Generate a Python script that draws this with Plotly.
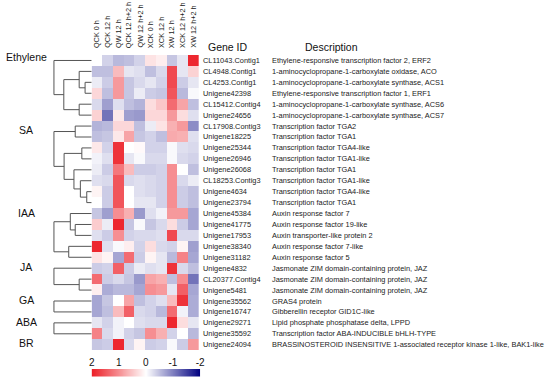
import plotly.graph_objects as go
import numpy as np

W, H = 550, 379

samples = ["QCK 0 h", "QCK 12 h", "QW 12 h", "QCK 12 h+2 h", "QW 12 h+2 h",
           "XCK 0 h", "XCK 12 h", "XW 12 h", "XCK 12 h+2 h", "XW 12 h+2 h"]

gene_ids = ["CL11043.Contig1", "CL4948.Contig1", "CL4253.Contig1", "Unigene42398",
            "CL15412.Contig4", "Unigene24656", "CL17908.Contig3", "Unigene18225",
            "Unigene25344", "Unigene26946", "Unigene26068", "CL18253.Contig3",
            "Unigene4634", "Unigene23794", "Unigene45384", "Unigene41775",
            "Unigene17953", "Unigene38340", "Unigene31182", "Unigene4832",
            "CL20377.Contig4", "Unigene5481", "Unigene35562", "Unigene16747",
            "Unigene29271", "Unigene35592", "Unigene24094"]

descriptions = [
    "Ethylene-responsive transcription factor 2, ERF2",
    "1-aminocyclopropane-1-carboxylate oxidase, ACO",
    "1-aminocyclopropane-1-carboxylate synthase, ACS1",
    "Ethylene-responsive transcription factor 1, ERF1",
    "1-aminocyclopropane-1-carboxylate synthase, ACS6",
    "1-aminocyclopropane-1-carboxylate synthase, ACS7",
    "Transcription factor TGA2",
    "Transcription factor TGA1",
    "Transcription factor TGA4-like",
    "Transcription factor TGA1-like",
    "Transcription factor TGA1",
    "Transcription factor TGA1-like",
    "Transcription factor TGA4-like",
    "Transcription factor TGA1",
    "Auxin response factor 7",
    "Auxin response factor 19-like",
    "Auxin transporter-like protein 2",
    "Auxin response factor 7-like",
    "Auxin response factor 5",
    "Jasmonate ZIM domain-containing protein, JAZ",
    "Jasmonate ZIM domain-containing protein, JAZ",
    "Jasmonate ZIM domain-containing protein, JAZ",
    "GRAS4 protein",
    "Gibberellin receptor GID1C-like",
    "Lipid phosphate phosphatase delta, LPPD",
    "Transcription factor ABA-INDUCIBLE bHLH-TYPE",
    "BRASSINOSTEROID INSENSITIVE 1-associated receptor kinase 1-like, BAK1-like",
]

values = [
    [0.0, -0.35, -0.55, -0.5, -0.35, 0.25, 0.15, -0.45, -0.2, 1.9],
    [-0.5, -0.5, 0.6, -0.2, -0.25, -0.5, -0.3, 1.6, -0.2, 0.4],
    [-0.15, -0.4, 0.9, -0.45, -0.3, -0.2, -0.35, 1.6, -0.4, -0.2],
    [0.35, -0.5, 0.9, -0.45, -0.15, -0.4, -0.45, 1.5, -0.55, -0.05],
    [-0.3, -0.75, -0.25, -0.5, -0.6, 0.3, 0.5, 1.3, 0.8, -0.5],
    [0.4, -1.1, 0.2, -0.75, -0.8, 0.35, 0.35, 0.9, 0.3, -0.25],
    [-0.6, -0.55, 0.35, 0.35, -0.5, -0.15, 0.25, 0.7, 0.9, -0.9],
    [-0.5, -0.45, 0.2, 0.8, -0.45, -0.35, -0.5, 0.75, 0.7, -0.25],
    [0.2, -0.35, 1.8, 0.0, 0.05, -0.35, -0.35, -0.05, -0.25, -0.3],
    [-0.1, -0.25, 1.8, -0.2, -0.05, -0.3, -0.3, -0.05, -0.3, -0.35],
    [-0.15, -0.4, 1.2, 0.6, -0.4, -0.4, -0.35, 1.0, 0.0, -0.5],
    [-0.25, -0.3, 1.5, -0.3, -0.25, -0.3, -0.35, 1.0, -0.3, -0.15],
    [0.1, -0.4, 1.5, 0.0, -0.25, -0.3, -0.35, 1.0, -0.4, -0.5],
    [0.0, -0.4, 1.5, 0.0, -0.2, -0.2, -0.35, 1.0, -0.4, -0.5],
    [-0.45, -0.75, 1.0, 0.7, -0.8, -0.25, -0.1, 0.9, 0.9, -0.7],
    [0.45, -0.15, 1.9, -0.45, -0.05, -0.45, -0.3, 0.3, -0.4, -0.7],
    [-0.25, -0.4, 1.0, -0.35, -0.3, -0.3, -0.25, 1.6, -0.3, -0.3],
    [1.9, -0.25, -0.05, 0.15, -0.35, 0.3, -0.3, -0.35, 0.1, -0.75],
    [0.25, 0.1, -0.7, 1.3, -0.4, 0.1, -0.2, -0.55, 1.1, -0.7],
    [-0.4, -0.35, 1.4, -0.4, -0.15, -0.25, -0.2, 1.8, -0.3, -0.5],
    [1.3, -0.4, -0.3, -0.45, -0.8, 0.8, 0.7, -0.5, 1.0, -1.1],
    [0.15, -0.65, -0.55, -0.55, -0.7, 1.0, 0.9, -0.2, 1.4, -0.7],
    [-0.7, -0.45, 0.0, 0.8, -0.5, -0.35, -0.25, 0.6, 1.8, -0.65],
    [-0.7, -0.5, 0.6, 1.4, -0.3, -0.35, -0.55, 1.3, -0.1, -0.65],
    [-0.2, -0.35, -0.1, 0.0, -0.25, -0.3, -0.3, 1.9, 0.3, -0.2],
    [1.1, -0.3, -0.1, -0.35, -0.45, 1.0, 0.7, -0.35, 0.0, -0.55],
    [-0.45, -0.4, 1.9, -0.3, 0.1, -0.4, -0.35, -0.05, -0.4, 0.9],
]

# pathway groups and their row clustering trees (height, left, right); leaves = row index
groups = ["Ethylene", "SA", "IAA", "JA", "GA", "ABA", "BR"]
trees = [
    (38.3, 0, (28.3, (12.7, 1, (6.7, 2, 3)), (12.7, 4, 5))),
    (38.3, (16.7, 6, 7), (28.0, (10.0, 8, 9), (18.0, 10, (11.5, 11, (5.0, 12, 13))))),
    (38.3, (21.7, 14, (16.7, 15, 16)), (23.3, 17, 18)),
    (38.3, 19, (12.7, 20, 21)),
    (38.3, 22, 23),
    (38.3, 24, 25),
    26,
]
group_label_px = [57.5, 130, 213, 267, 300, 321.5, 342.5]

scale_ticks = [2, 1, 0, -1, -2]

FONT = "Liberation Sans, Arial, sans-serif"
colorscale = [[0.0, "rgb(0,0,128)"], [0.5, "rgb(255,255,255)"], [1.0, "rgb(236,28,36)"]]

def px_x(p):
    return p / W

def px_y(p):
    return 1 - p / H

# heatmap geometry
hx0, hx1 = 90, 199
hy0, hy1 = 55, 350.2

fig = go.Figure()

fig.add_trace(go.Heatmap(
    z=values, x=list(range(len(samples))), y=list(range(len(gene_ids))),
    colorscale=colorscale, zmin=-2, zmax=2, showscale=False,
    xaxis="x", yaxis="y", hoverinfo="skip"))

# dendrogram
seg_x, seg_y = [], []

def walk(node):
    if isinstance(node, int):
        return float(node), 0.0
    h, l, r = node
    yl, hl = walk(l)
    yr, hr = walk(r)
    seg_x.extend([hl, h, h, hr, None])
    seg_y.extend([yl, yl, yr, yr, None])
    return (yl + yr) / 2, h

for t in trees:
    walk(t)

fig.add_trace(go.Scatter(x=seg_x, y=seg_y, mode="lines",
                         line=dict(color="#555555", width=1),
                         xaxis="x2", yaxis="y", hoverinfo="skip", showlegend=False))

# colour scale bar
bar_x = np.linspace(scale_ticks[0], scale_ticks[-1], 221)
fig.add_trace(go.Heatmap(z=[bar_x], x=bar_x, y=[0], colorscale=colorscale,
                         zmin=-2, zmax=2, showscale=False,
                         xaxis="x3", yaxis="y3", hoverinfo="skip"))

ann = []
for i, s in enumerate(samples):
    ann.append(dict(x=i, y=px_y(50), xref="x", yref="paper", text=s,
                    textangle=-90, xanchor="center", yanchor="bottom",
                    showarrow=False, font=dict(family=FONT, size=7.3, color="#222")))
for i, (g, d) in enumerate(zip(gene_ids, descriptions)):
    ann.append(dict(x=px_x(201), y=i, xref="paper", yref="y", text=g,
                    xanchor="left", yanchor="middle", showarrow=False,
                    font=dict(family=FONT, size=7.4, color="#222")))
    ann.append(dict(x=px_x(270.5), y=i, xref="paper", yref="y", text=d,
                    xanchor="left", yanchor="middle", showarrow=False,
                    font=dict(family=FONT, size=7.4, color="#222")))
ann.append(dict(x=px_x(228.5), y=px_y(47), xref="paper", yref="paper", text="Gene ID",
                xanchor="center", yanchor="middle", showarrow=False,
                font=dict(family=FONT, size=10.5, color="#111")))
ann.append(dict(x=px_x(333), y=px_y(47), xref="paper", yref="paper", text="Description",
                xanchor="center", yanchor="middle", showarrow=False,
                font=dict(family=FONT, size=10.5, color="#111")))
for g, gy in zip(groups, group_label_px):
    ann.append(dict(x=px_x(23.5), y=px_y(gy), xref="paper", yref="paper", text=g,
                    xanchor="center", yanchor="middle", showarrow=False,
                    font=dict(family=FONT, size=10.5, color="#111")))

fig.update_layout(
    width=W, height=H, margin=dict(l=0, r=0, t=0, b=0),
    paper_bgcolor="white", plot_bgcolor="white",
    annotations=ann,
    xaxis=dict(domain=[px_x(hx0), px_x(hx1)], range=[-0.5, len(samples) - 0.5],
               visible=False, anchor="y"),
    yaxis=dict(domain=[px_y(hy1), px_y(hy0)], range=[len(gene_ids) - 0.5, -0.5],
               visible=False, anchor="x"),
    xaxis2=dict(domain=[0, px_x(hx0)], range=[90, 0], visible=False, anchor="y"),
    xaxis3=dict(domain=[px_x(90), px_x(200)], range=[2, -2], anchor="y3",
                side="top", tickvals=scale_ticks, ticktext=[str(t) for t in scale_ticks],
                ticks="", showline=False, showgrid=False, zeroline=False,
                tickfont=dict(family=FONT, size=10, color="#111")),
    yaxis3=dict(domain=[px_y(376.5), px_y(369)], range=[-0.5, 0.5], visible=False,
                anchor="x3"),
)

fig.write_html("out.html", config={"displayModeBar": False, "staticPlot": True},
               post_script="document.body.style.margin='0';document.body.style.padding='0';")
